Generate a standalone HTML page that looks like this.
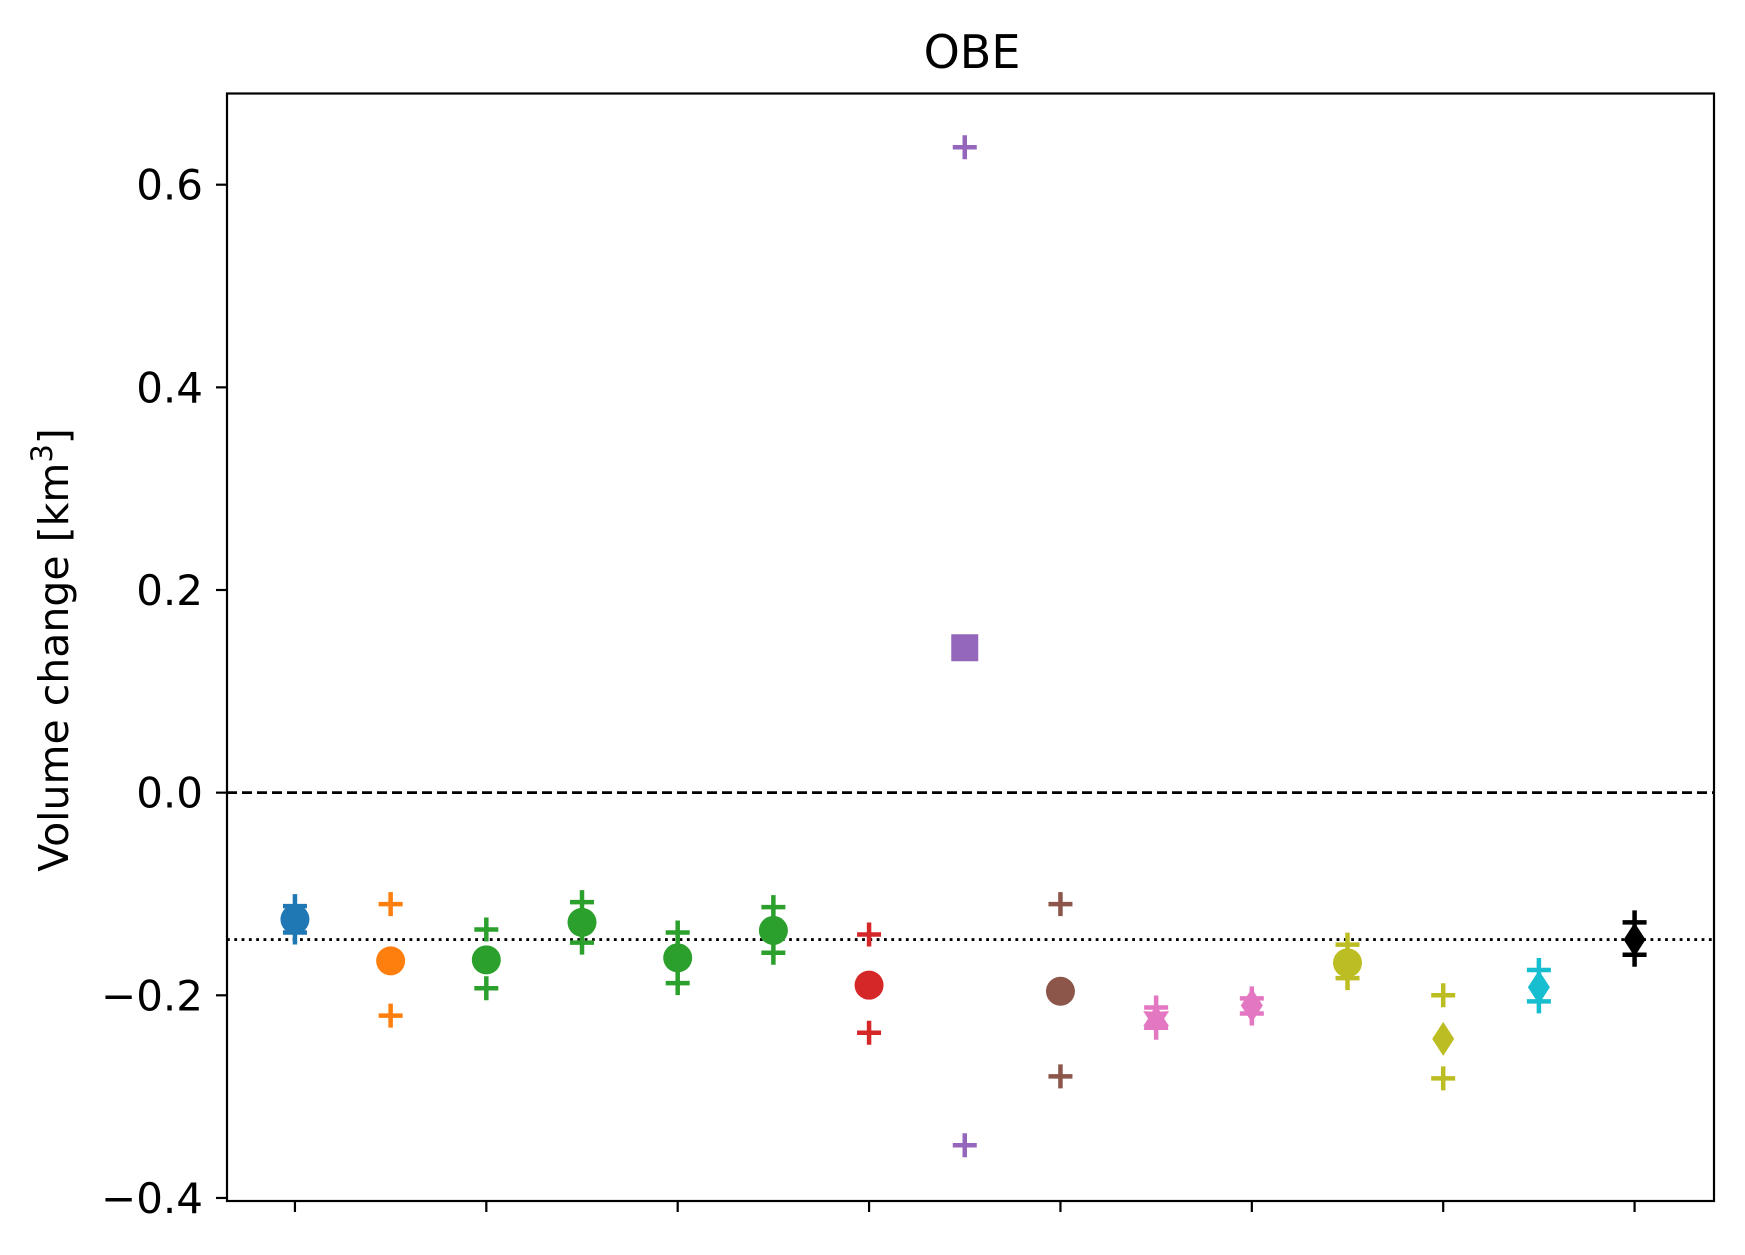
<!DOCTYPE html>
<html><head><meta charset="utf-8"><style>
body{margin:0;background:#fff}
svg{display:block;font-family:"DejaVu Sans","Liberation Sans",sans-serif}
</style></head><body>
<svg id="chart" width="1745" height="1255" viewBox="0 0 1745 1255">
<rect x="0" y="0" width="1745" height="1255" fill="#fff"/>
<text x="972" y="68" font-size="46" text-anchor="middle">OBE</text>
<text transform="translate(68,650) rotate(-90)" font-size="41" text-anchor="middle">Volume change [km<tspan dy="-16" font-size="29">3</tspan><tspan dy="16">]</tspan></text>
<g id="plot"></g>
</svg>
<script>
const categories=[0,1,2,3,4,5,6,7,8,9,10,11,12,13,14];
const values=[-0.125,-0.166,-0.165,-0.128,-0.163,-0.136,-0.190,0.143,-0.196,-0.223,-0.210,-0.168,-0.243,-0.192,-0.145];
const upperVals=[-0.112,-0.110,-0.135,-0.108,-0.138,-0.113,-0.140,0.637,-0.110,-0.212,-0.203,-0.150,-0.200,-0.175,-0.128];
const lowerVals=[-0.138,-0.220,-0.193,-0.148,-0.188,-0.158,-0.237,-0.348,-0.280,-0.232,-0.218,-0.183,-0.282,-0.206,-0.160];
const colors=['#1f77b4','#ff7f0e','#2ca02c','#2ca02c','#2ca02c','#2ca02c','#d62728','#9467bd','#8c564b','#e377c2','#e377c2','#bcbd22','#bcbd22','#17becf','#000000'];
const markers=['o','o','o','o','o','o','o','s','o','h','d','o','d','d','d'];
const yTicks=[-0.4,-0.2,0.0,0.2,0.4,0.6];
const yTickLabels=['\u22120.4','\u22120.2','0.0','0.2','0.4','0.6'];
const xTicks=[0,2,4,6,8,10,12,14];
const meanLine=-0.145;

const L=227,R=1714,T=93.5,B=1201;
const xMin=-0.71,xMax=14.83,yMin=-0.403,yMax=0.690;
const xs=v=>L+(v-xMin)/(xMax-xMin)*(R-L);
const ys=v=>B-(v-yMin)/(yMax-yMin)*(B-T);
const NS='http://www.w3.org/2000/svg';
const g=document.getElementById('plot');
function mk(tag,attrs){const e=document.createElementNS(NS,tag);for(const k in attrs)e.setAttribute(k,attrs[k]);g.appendChild(e);return e;}

let e=mk('line',{x1:L,x2:R,y1:ys(0),y2:ys(0),stroke:'#000','stroke-width':2.8,'stroke-dasharray':'10,5'});


e=mk('line',{x1:L,x2:R,y1:ys(meanLine),y2:ys(meanLine),stroke:'#000','stroke-width':2.8,'stroke-dasharray':'2.8,4.5'});



yTicks.forEach((t,i)=>{
  let l=mk('line',{x1:L-11,x2:L,y1:ys(t),y2:ys(t),stroke:'#000','stroke-width':2.2});
  
  
  let tx=mk('text',{x:L-24,y:ys(t)+15,'font-size':42,'text-anchor':'end'});
  tx.textContent=yTickLabels[i];
  
  
});
xTicks.forEach(t=>{
  let l=mk('line',{x1:xs(t),x2:xs(t),y1:B,y2:B+11,stroke:'#000','stroke-width':2.2});
  
  
});

function plus(x,y,c){
  const s=12;
  let p=mk('path',{d:`M${x-s} ${y}H${x+s}M${x} ${y-s}V${y+s}`,stroke:c,'stroke-width':4.5,fill:'none'});
  
  
}
categories.forEach((c,i)=>{
  const x=xs(c),y=ys(values[i]),col=colors[i];
  plus(x,ys(upperVals[i]),col);
  plus(x,ys(lowerVals[i]),col);
  let m;
  if(markers[i]==='o') m=mk('circle',{cx:x,cy:y,r:14.5,fill:col});
  else if(markers[i]==='s') m=mk('rect',{x:x-13.5,y:y-13.5,width:27,height:27,fill:col});
  else if(markers[i]==='d') m=mk('polygon',{points:`${x},${y-17} ${x+11},${y} ${x},${y+17} ${x-11},${y}`,fill:col});
  else {let pts=[];for(let k=0;k<12;k++){const a=Math.PI/6*k-Math.PI/2;const r=k%2?8:15;pts.push((x+r*Math.cos(a))+','+(y+r*Math.sin(a)));}m=mk('polygon',{points:pts.join(' '),fill:col});}
  
  
});
e=mk('rect',{x:L,y:T,width:R-L,height:B-T,fill:'none',stroke:'#000','stroke-width':2.2});


</script>
</body></html>
